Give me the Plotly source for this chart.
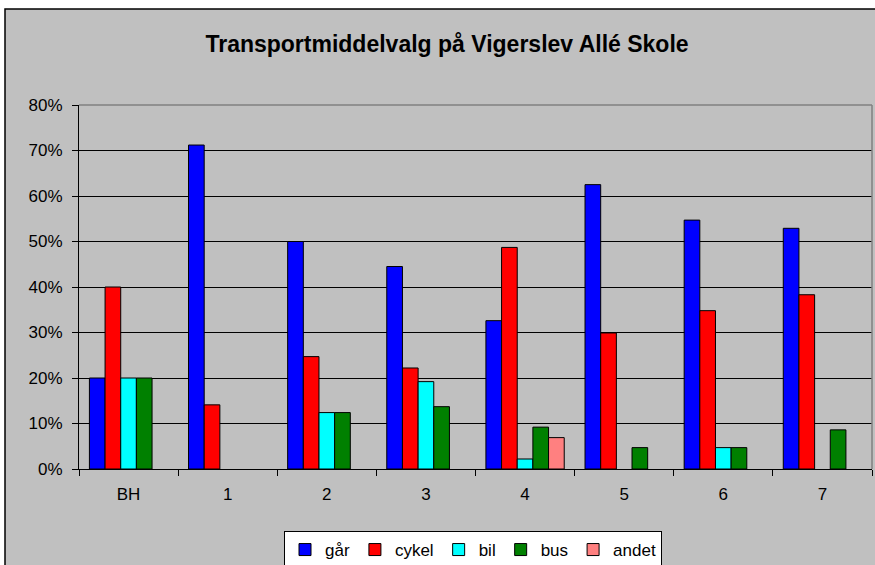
import plotly.graph_objects as go

categories = ["BH", "1", "2", "3", "4", "5", "6", "7"]
gaar = [0.20, 0.712, 0.50, 0.445, 0.326, 0.625, 0.547, 0.529]
cykel = [0.40, 0.141, 0.247, 0.222, 0.487, 0.299, 0.348, 0.383]
bil = [0.20, None, 0.124, 0.192, 0.022, None, 0.047, None]
bus = [0.20, None, 0.124, 0.137, 0.092, 0.047, 0.047, 0.086]
andet = [None, None, None, None, 0.069, None, None, None]

series = [
    ("går", gaar, "#0000FF"),
    ("cykel", cykel, "#FF0000"),
    ("bil", bil, "#00FFFF"),
    ("bus", bus, "#008000"),
    ("andet", andet, "#FF8080"),
]

FONT = "Arial, Liberation Sans, sans-serif"

fig = go.Figure()
for name, vals, col in series:
    fig.add_trace(go.Bar(
        x=categories, y=vals, name=name,
        marker=dict(color=col, line=dict(color="black", width=1)),
    ))

W, H = 875, 565
L, R, T, B = 79, 3, 105, 96

fig.update_layout(
    width=W, height=H,
    margin=dict(l=L, r=R, t=T, b=B, pad=0, autoexpand=False),
    paper_bgcolor="white",
    plot_bgcolor="#C0C0C0",
    barmode="group",
    bargap=0.21,
    bargroupgap=0,
    font=dict(family=FONT, size=17, color="black"),
    title=dict(
        text="<b>Transportmiddelvalg på Vigerslev Allé Skole</b>",
        x=447 / W, xref="container", xanchor="center",
        y=1 - 44 / H, yref="container", yanchor="middle",
        font=dict(family=FONT, size=23, color="black"),
    ),
    showlegend=True,
    legend=dict(
        orientation="h",
        xref="container", yref="container",
        x=473 / W, xanchor="center",
        y=1 - 531 / H, yanchor="top",
        bgcolor="white", bordercolor="black", borderwidth=1,
        font=dict(family=FONT, size=17, color="black"),
        itemwidth=30,
        traceorder="normal",
    ),
    xaxis=dict(
        type="category",
        automargin=False,
        showline=True, linecolor="black", linewidth=1,
        ticks="outside", tickson="boundaries", ticklen=6, tickcolor="black",
        showgrid=False,
        tickfont=dict(family=FONT, size=17),
        ticklabelstandoff=10,
    ),
    yaxis=dict(
        range=[0, 0.8],
        automargin=False,
        dtick=0.1,
        tickformat=".0%",
        showline=True, linecolor="black", linewidth=1,
        ticks="outside", ticklen=6, tickcolor="black",
        showgrid=True, gridcolor="black", gridwidth=1,
        zeroline=False,
        tickfont=dict(family=FONT, size=17),
        ticklabelstandoff=6,
    ),
)

# grey chart-area background with black border (extends past the image edges)
px = lambda v: (v - L) / (W - L - R)
py = lambda v: ((H - B) - v) / (H - T - B)
fig.add_shape(type="rect", xref="paper", yref="paper",
              x0=px(5), x1=px(W + 20), y0=py(9), y1=py(H + 20),
              fillcolor="#C0C0C0", line=dict(color="black", width=1.5), layer="below")
# grey plot-area border on top and right
fig.add_shape(type="line", xref="paper", yref="paper", x0=0, x1=1, y0=1, y1=1,
              line=dict(color="#808080", width=1.5), layer="above")
fig.add_shape(type="line", xref="paper", yref="paper", x0=1, x1=1, y0=0, y1=1,
              line=dict(color="#808080", width=1.5), layer="above")

fig.write_html("out.html", config={"displayModeBar": False},
               post_script="document.body.style.margin='0';")
